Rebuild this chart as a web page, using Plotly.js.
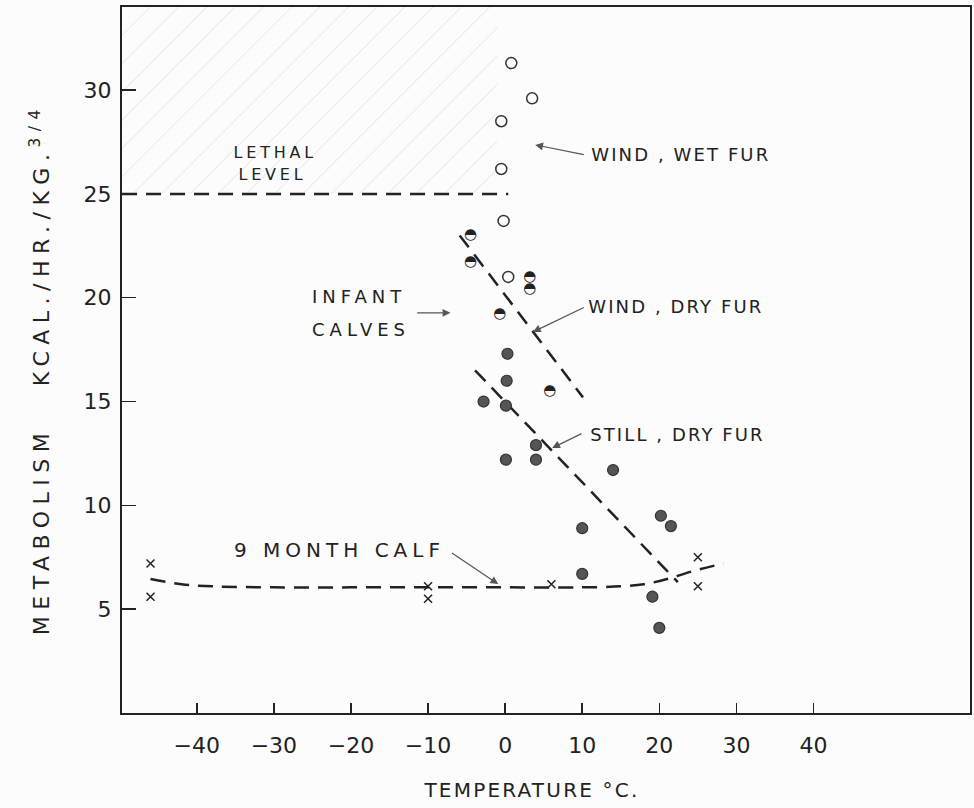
<!DOCTYPE html>
<html><head><meta charset="utf-8">
<script src="https://cdn.plot.ly/plotly-3.0.1.min.js"></script>
<style>html,body{margin:0;padding:0;background:#fcfcfc;}</style>
</head><body><div id="chart" style="width:974px;height:808px;"></div>
<script>
// ---- data ----
const wetFurTemp = [0.8, 3.5, -0.5, -0.5, -0.2, 0.4];
const wetFurMet  = [31.3, 29.6, 28.5, 26.2, 23.7, 21.0];

const windDryTemp = [-4.5, -4.5, 3.2, 3.2, -0.7, 5.8];
const windDryMet  = [23.0, 21.7, 21.0, 20.4, 19.2, 15.5];

const stillDryTemp = [0.3, 0.2, -2.8, 0.1, 4.0, 0.1, 4.0, 14.0, 10.0, 10.0, 20.2, 21.5, 19.1, 20.0];
const stillDryMet  = [17.3, 16.0, 15.0, 14.8, 12.9, 12.2, 12.2, 11.7, 8.9, 6.7, 9.5, 9.0, 5.6, 4.1];

const calfTemp = [-46, -46, -10, -10, 6, 25, 25];
const calfMet  = [7.2, 5.6, 6.1, 5.5, 6.2, 7.5, 6.1];

const lethalTemp = [-49.7, 0.4];
const lethalMet  = [25, 25];

const windDryFitTemp = [-5.9, 10.1];
const windDryFitMet  = [23.0, 15.2];

const stillDryFitTemp = [-3.9, 22.4];
const stillDryFitMet  = [16.5, 6.3];

const calfCurveTemp = [-46, -42, -38, -30, -20, -10, 0, 10, 15, 18, 21, 24.5, 28.3];
const calfCurveMet  = [6.45, 6.2, 6.1, 6.05, 6.05, 6.05, 6.05, 6.05, 6.1, 6.2, 6.45, 6.85, 7.2];

const lethalZoneTemp = [-49.7, -1, -1, -49.7];
const lethalZoneMet  = [25, 25, 34, 34];

const xTickVals = [-40, -30, -20, -10, 0, 10, 20, 30, 40];
const yTickVals = [5, 10, 15, 20, 25, 30];

const xTitle = 'TEMPERATURE °C.';
const yTitle = 'METABOLISM\u00A0\u00A0\u00A0KCAL./HR./KG.<sup>3/4</sup>';

const FONT = 'DejaVu Sans';
const INK = '#222';
const dash = '15px,9px';

const traces = [
  {x: lethalZoneTemp, y: lethalZoneMet, mode: 'lines', fill: 'toself', line: {width: 0},
   fillcolor: 'rgba(0,0,0,0)',
   fillpattern: {shape: '/', fgcolor: '#dadada', bgcolor: 'rgba(0,0,0,0)', size: 20, solidity: 0.04},
   hoverinfo: 'skip', showlegend: false},
  {x: lethalTemp, y: lethalMet, mode: 'lines', line: {color: INK, width: 2.5, dash: dash}, showlegend: false},
  {x: windDryFitTemp, y: windDryFitMet, mode: 'lines', line: {color: INK, width: 2.5, dash: dash}, showlegend: false},
  {x: stillDryFitTemp, y: stillDryFitMet, mode: 'lines', line: {color: INK, width: 2.5, dash: dash}, showlegend: false},
  {x: calfCurveTemp, y: calfCurveMet, mode: 'lines', line: {color: INK, width: 2.5, dash: dash, shape: 'spline'}, showlegend: false},
  {x: wetFurTemp, y: wetFurMet, mode: 'markers', name: 'Wind, wet fur',
   marker: {symbol: 'circle', size: 11, color: '#fcfcfc', line: {color: '#333', width: 1.5}}, showlegend: false},
  {x: windDryTemp, y: windDryMet, mode: 'text', name: 'Wind, dry fur', text: windDryTemp.map(() => '\u25D3'),
   textposition: 'middle center', textfont: {family: FONT, size: 15, color: '#222'}, showlegend: false},
  {x: stillDryTemp, y: stillDryMet, mode: 'markers', name: 'Still, dry fur',
   marker: {symbol: 'circle', size: 11, color: '#555', line: {color: '#333', width: 1.2}}, showlegend: false},
  {x: calfTemp, y: calfMet, mode: 'markers', name: '9 month calf',
   marker: {symbol: 'x-thin-open', size: 8, color: INK, line: {color: INK, width: 1.5}}, showlegend: false}
];

const txt = (s, x, y, size) => ({text: s, x: x, y: y, xref: 'x', yref: 'y', xanchor: 'center', yanchor: 'middle',
  showarrow: false, font: {family: FONT, size: size || 18, color: INK}});
const arr = (x0, y0, x1, y1) => ({text: '', x: x1, y: y1, ax: x0, ay: y0, xref: 'x', yref: 'y', axref: 'x', ayref: 'y',
  showarrow: true, arrowhead: 2, arrowsize: 1.3, arrowwidth: 1.2, arrowcolor: '#555', standoff: 0});

const annotations = [
  txt('WIND , WET FUR', 22.8, 26.9),
  txt('WIND , DRY FUR', 22.2, 19.6),
  txt('STILL , DRY FUR', 22.4, 13.4),
  txt('INFANT', -18.9, 20.05),
  txt('CALVES', -18.7, 18.45),
  txt('9 MONTH CALF', -21.5, 7.85, 20),
  txt('LETHAL', -29.8, 27.0, 16),
  txt('LEVEL', -30.2, 25.95, 16),
  {text: yTitle, xref: 'paper', yref: 'paper', x: -0.097, y: 0.487, xanchor: 'center', yanchor: 'middle',
   textangle: -90, showarrow: false, font: {family: FONT, size: 22, color: INK}},
  arr(10.4, 26.88, 3.9, 27.36),
  arr(10.4, 19.56, 3.6, 18.35),
  arr(10.1, 13.49, 6.1, 12.76),
  arr(-11.6, 19.27, -7.1, 19.27),
  arr(-7.1, 7.76, -0.9, 6.21)
];
const letterSpacing = [2.1, 2.1, 2.1, 5, 5, 5, 3.8, 3.8, 6.5];

const layout = {
  width: 974, height: 808,
  margin: {l: 122, r: 4, t: 7, b: 95},
  paper_bgcolor: '#fcfcfc', plot_bgcolor: '#fcfcfc',
  showlegend: false,
  xaxis: {range: [-49.7, 60.3], tickvals: xTickVals, ticks: 'inside', ticklen: 10, tickwidth: 1.5, tickcolor: INK,
    showline: true, mirror: true, linecolor: INK, linewidth: 2, showgrid: false, zeroline: false,
    tickfont: {family: FONT, size: 22, color: INK}, ticklabelstandoff: 12,
    title: {text: xTitle, font: {family: FONT, size: 20, color: INK}, standoff: 26}},
  yaxis: {range: [0, 34], tickvals: yTickVals, ticks: 'inside', ticklen: 14, tickwidth: 1.5, tickcolor: INK,
    showline: true, mirror: true, linecolor: INK, linewidth: 2, showgrid: false, zeroline: false,
    tickfont: {family: FONT, size: 22, color: INK}, ticklabelstandoff: 4},
  annotations: annotations
};

Plotly.newPlot('chart', traces, layout, {displayModeBar: false, staticPlot: true}).then(gd => {
  gd.querySelectorAll('g.annotation').forEach(g => {
    const i = +g.getAttribute('data-index');
    const t = g.querySelector('text.annotation-text');
    if (t && letterSpacing[i] !== undefined) t.style.letterSpacing = letterSpacing[i] + 'px';
  });
  const xt = gd.querySelector('.xtitle');
  if (xt) { xt.style.letterSpacing = '2.2px'; xt.setAttribute('transform', 'translate(-14,0)'); }
});
</script></body></html>
